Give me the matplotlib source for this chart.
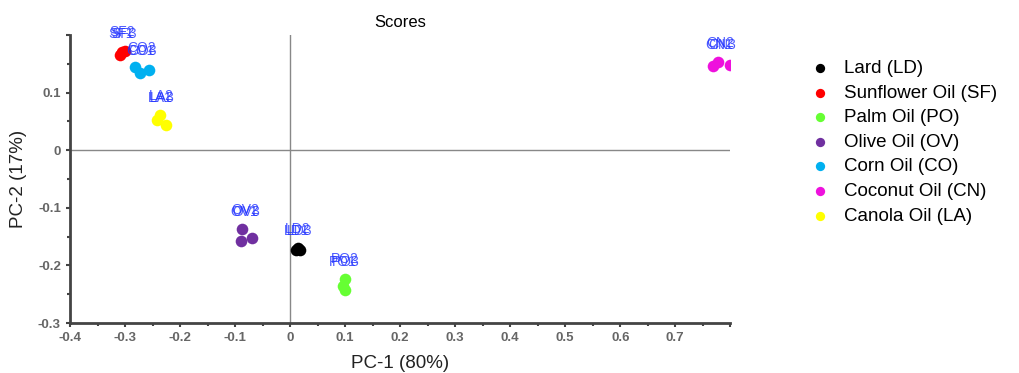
import matplotlib
matplotlib.use('Agg')
import matplotlib.pyplot as plt
from matplotlib.ticker import MultipleLocator, FuncFormatter

plt.rcParams['font.family'] = ['Liberation Sans', 'DejaVu Sans']

# PCA scores, three replicates per oil
groups = ['Lard (LD)', 'Sunflower Oil (SF)', 'Palm Oil (PO)', 'Olive Oil (OV)',
          'Corn Oil (CO)', 'Coconut Oil (CN)', 'Canola Oil (LA)']
codes = ['LD', 'SF', 'PO', 'OV', 'CO', 'CN', 'LA']
colors = ['#000000', '#ff0000', '#66ff33', '#7030a0', '#00b0f0', '#ee11dd', '#ffff00']

pc1 = {
    'LD': [0.010, 0.018, 0.014],
    'SF': [-0.310, -0.305, -0.300],
    'PO': [0.100, 0.096, 0.100],
    'OV': [-0.087, -0.069, -0.089],
    'CO': [-0.282, -0.273, -0.256],
    'CN': [0.769, 0.778, 0.800],
    'LA': [-0.236, -0.242, -0.225],
}
pc2 = {
    'LD': [-0.174, -0.174, -0.170],
    'SF': [0.165, 0.170, 0.172],
    'PO': [-0.223, -0.235, -0.243],
    'OV': [-0.137, -0.152, -0.157],
    'CO': [0.144, 0.134, 0.139],
    'CN': [0.146, 0.153, 0.148],
    'LA': [0.061, 0.052, 0.043],
}

fig = plt.figure(figsize=(10.19, 3.73), dpi=100)
ax = fig.add_axes([0.0687, 0.134, 0.648, 0.772])

ax.axhline(0, color='#888888', lw=1.0, zorder=0)
ax.axvline(0, color='#888888', lw=1.0, zorder=0)

for name, code, col in zip(groups, codes, colors):
    ax.scatter(pc1[code], pc2[code], s=70, color=col, label=name, zorder=3, linewidths=0)
    # replicate labels sit stacked just above the cluster
    cx = sum(pc1[code]) / 3
    top = max(pc2[code])
    for i in range(3):
        ax.annotate(f'{code}{i + 1}', (cx, top), xytext=(i - 1, 7 + 2 * (i % 2)),
                    textcoords='offset points', ha='center', va='bottom',
                    fontsize=10, color='#2233ff', alpha=0.8, zorder=4)

ax.set_xlim(-0.4, 0.8)
ax.set_ylim(-0.3, 0.2)
ax.xaxis.set_major_locator(MultipleLocator(0.1))
ax.xaxis.set_minor_locator(MultipleLocator(0.05))
ax.yaxis.set_major_locator(MultipleLocator(0.1))
ax.yaxis.set_minor_locator(MultipleLocator(0.05))


def fmt_x(v, pos):
    if abs(v) < 1e-9:
        return '0'
    if v > 0.75:
        return ''
    return f'{v:.1f}'


def fmt_y(v, pos):
    if abs(v) < 1e-9:
        return '0'
    if v > 0.15:
        return ''
    return f'{v:.1f}'


ax.xaxis.set_major_formatter(FuncFormatter(fmt_x))
ax.yaxis.set_major_formatter(FuncFormatter(fmt_y))

for side in ['top', 'right']:
    ax.spines[side].set_visible(False)
for side in ['left', 'bottom']:
    ax.spines[side].set_linewidth(2)
    ax.spines[side].set_color('#444444')
ax.tick_params(which='both', direction='out', color='#444444', labelcolor='#666666',
               labelsize=9.5, width=1.5)
ax.tick_params(which='major', length=3)
ax.tick_params(which='minor', length=2)
for lbl in ax.get_xticklabels() + ax.get_yticklabels():
    lbl.set_fontweight('bold')

ax.set_title('Scores', fontsize=12, pad=6)
ax.set_xlabel('PC-1 (80%)', fontsize=13.5, labelpad=8, color='#222222')
ax.set_ylabel('PC-2 (17%)', fontsize=13.5, labelpad=8, color='#222222')

fig.legend(loc='upper left', bbox_to_anchor=(0.773, 0.875), frameon=False, fontsize=13.5,
           handletextpad=0.3, labelspacing=0.4, markerscale=0.8, scatterpoints=1,
           borderpad=0.2)

fig.savefig('out.png', dpi=100)
